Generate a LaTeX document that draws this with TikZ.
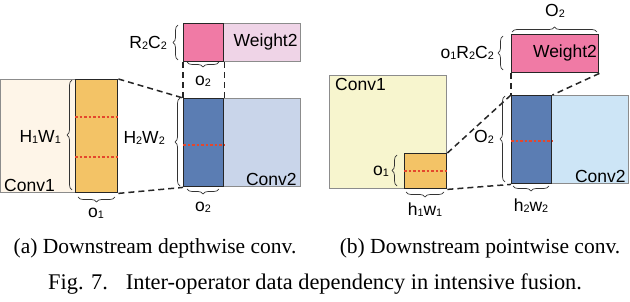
\documentclass[tikz,border=0pt]{standalone}
\usepackage{fontspec}
\setmainfont{Liberation Serif}
\newfontfamily\lab{Liberation Sans}
\usetikzlibrary{decorations.pathreplacing}
\definecolor{peach}{HTML}{FEF5E8}
\definecolor{orng}{HTML}{F3C366}
\definecolor{dblue}{HTML}{5B7DB3}
\definecolor{lblueA}{HTML}{C9D5EA}
\definecolor{lblueB}{HTML}{CDE5F6}
\definecolor{pinkA}{HTML}{F07AA5}
\definecolor{lpink}{HTML}{EFD4E7}
\definecolor{yel}{HTML}{F7F5CE}
\definecolor{redd}{HTML}{E4472C}
\newcommand{\sbx}[1]{\raisebox{-0.06em}{\scalebox{0.62}{#1}}}
\tikzset{
  x=1pt, y=-1pt,
  blk/.style={draw=black!45, line width=0.8pt, inner sep=0pt, anchor=north west},
  hot/.style={draw=black!85, line width=1.4pt, inner sep=0pt, anchor=north west},
  lbl/.style={font=\lab\fontsize{17.5}{18}\selectfont, inner sep=1pt},
  brc/.style={decorate, decoration={brace, amplitude=5pt}, draw=black!80, line width=0.7pt},
  dsh/.style={draw=black!85, line width=1.5pt, dash pattern=on 6pt off 4pt},
  dotr/.style={draw=redd, line width=2pt, dash pattern=on 2.5pt off 2pt},
  captxt/.style={font=\fontsize{21.5}{24}\selectfont, inner sep=0pt, anchor=base}
}
\begin{document}
\begin{tikzpicture}
\useasboundingbox (0,0) rectangle (630,302);
% ---------- (a) ----------
\node[blk, fill=peach, minimum width=75pt, minimum height=113pt] (c1a) at (0,79) {};
\node[hot, fill=orng, minimum width=42pt, minimum height=113pt] (o1a) at (75,79) {};
\draw[dotr] (o1a.west |- 0,117) -- (o1a.east |- 0,117);
\draw[dotr] (o1a.west |- 0,157) -- (o1a.east |- 0,157);
\node[blk, fill=lblueA, minimum width=77pt, minimum height=88pt] (c2a) at (223,98) {};
\node[hot, fill=dblue, minimum width=40pt, minimum height=88pt] (ba) at (183,98) {};
\draw[dotr] (ba.west |- 0,145) -- (ba.east |- 0,145);
\node[blk, fill=lpink, minimum width=77pt, minimum height=38pt] (wla) at (223,23) {};
\node[hot, fill=pinkA, minimum width=40pt, minimum height=38pt] (pa) at (183,23) {};
\node[lbl, anchor=south west] (t1a) at ([xshift=3pt]c1a.south west) {Conv1};
\node[lbl, anchor=south east] (t2a) at ([xshift=-3pt]c2a.south east) {Conv2};
\node[lbl, anchor=east] (twa) at ([xshift=-2pt]wla.east) {Weight2};
% dashed
\draw[dsh] (o1a.north east) -- (ba.north west);
\draw[dsh] (o1a.south east) -- (ba.south west);
\draw[dsh] (pa.south west) -- (ba.north west);
\draw[dsh] (pa.south east) -- (ba.north east);
% braces
\draw[brc] (72,190) -- (72,80);
\node[lbl, anchor=east] (hwa) at (62,137) {H\sbx{1}W\sbx{1}};
\draw[brc] (115,197) -- (78,197);
\node[lbl] (o1la) at (96,213) {o\sbx{1}};
\draw[brc] (180,186) -- (180,98);
\node[lbl, anchor=east] (hw2a) at (166,138) {H\sbx{2}W\sbx{2}};
\draw[brc] (219,189) -- (187,189);
\node[lbl] (o2la) at (203,207) {o\sbx{2}};
\draw[brc] (178,60) -- (178,25);
\node[lbl, anchor=east] (rca) at (168,43) {R\sbx{2}C\sbx{2}};
\draw[brc] (219,62) -- (187,62);
\node[lbl] (o2ta) at (203,81) {o\sbx{2}};
% ---------- (b) ----------
\node[blk, fill=yel, minimum width=117pt, minimum height=113pt] (c1b) at (329,75) {};
\node[hot, fill=orng, minimum width=42pt, minimum height=35pt] (o1b) at (404,153) {};
\draw[dotr] (o1b.west |- 0,171) -- (o1b.east |- 0,171);
\node[blk, fill=lblueB, minimum width=77pt, minimum height=88pt] (c2b) at (551,95) {};
\node[hot, fill=dblue, minimum width=40pt, minimum height=88pt] (bb) at (511,95) {};
\draw[dotr] (bb.west |- 0,141) -- (bb.east |- 0,141);
\node[hot, fill=pinkA, minimum width=87pt, minimum height=38pt] (wb) at (511,34) {};
\node[lbl] (twb) at (565,53) {Weight2};
\node[lbl, anchor=north west] (t1b) at ([xshift=5pt,yshift=-2pt]c1b.north west) {Conv1};
\node[lbl, anchor=south east] (t2b) at ([xshift=-2pt]c2b.south east) {Conv2};
% dashed
\draw[dsh] (o1b.north east) -- (bb.north west);
\draw[dsh] (o1b.south east) -- (bb.south west);
\draw[dsh] (wb.south west) -- (bb.north west);
\draw[dsh] (wb.south east) -- (bb.north east);
% braces
\draw[brc] (512,32) -- (597,32);
\node[lbl] (o2tb) at (555,11) {O\sbx{2}};
\draw[brc] (503,70) -- (503,36);
\node[lbl, anchor=east] (orcb) at (495,53) {o\sbx{1}R\sbx{2}C\sbx{2}};
\draw[brc] (505,182) -- (505,96);
\node[lbl, anchor=east] (o2lb) at (495,137) {O\sbx{2}};
\draw[brc] (397,186) -- (397,155);
\node[lbl, anchor=east] (o1lb) at (390,171) {o\sbx{1}};
\draw[brc] (444,192) -- (406,192);
\node[lbl] (hwb) at (425,210) {h\sbx{1}w\sbx{1}};
\draw[brc] (549,186) -- (513,186);
\node[lbl] (hw2b) at (531,206) {h\sbx{2}w\sbx{2}};
% ---------- captions ----------
\node[captxt] (capa) at (155,254) {(a) Downstream depthwise conv.};
\node[captxt] (capb) at (480,254) {(b) Downstream pointwise conv.};
\node[captxt, anchor=base west, font=\fontsize{22.4}{24}\selectfont] (capf) at (48,290) {Fig. 7.\hspace{0.8em}Inter-operator data dependency in intensive fusion.};
\end{tikzpicture}
\end{document}
